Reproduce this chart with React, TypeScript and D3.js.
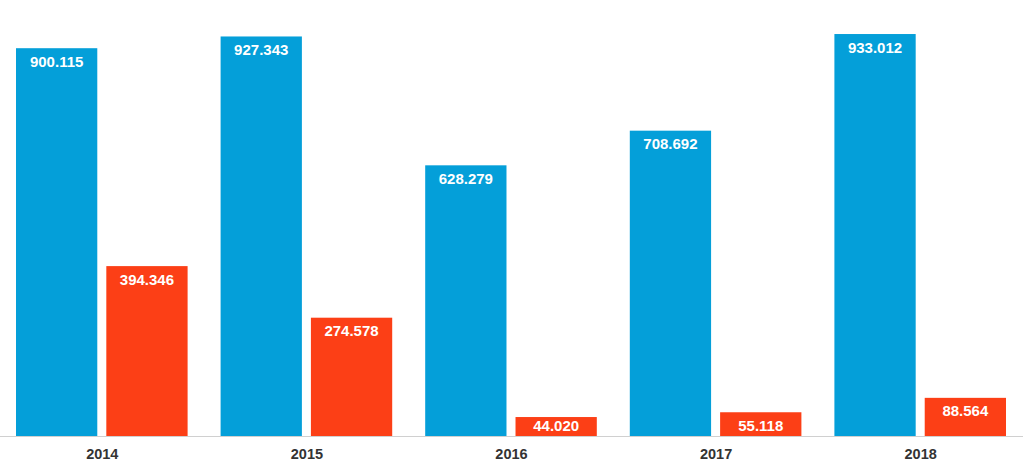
import React from "react";
import * as d3 from "d3";

const years = ["2014", "2015", "2016", "2017", "2018"];
const seriesA = [900.115, 927.343, 628.279, 708.692, 933.012];
const seriesB = [394.346, 274.578, 44.02, 55.118, 88.564];
const seriesKeys = ["a", "b"];
const colors = ["#049fd9", "#fc3f16"];

const W = 1023;
const H = 472;
const baseY = 436;

export default function App() {
  const x0 = d3.scaleBand<string>().domain(years).range([0, W]).padding(0);
  const x1 = d3
    .scaleBand<string>()
    .domain(seriesKeys)
    .range([16, x0.bandwidth() - 17])
    .paddingInner(0.1)
    .paddingOuter(0);
  const y = d3.scaleLinear().domain([0, 1012]).range([baseY, 0]);
  const fmt = (v: number) => d3.format(".3f")(v);
  const series = [seriesA, seriesB];

  return (
    <svg
      width={W}
      height={H}
      style={{ position: "absolute", left: 0, top: 0, background: "#fff" }}
      fontFamily="'Liberation Sans', Arial, Helvetica, sans-serif"
    >
      {years.map((yr, i) => (
        <g key={yr} transform={`translate(${x0(yr)},0)`}>
          {seriesKeys.map((k, j) => {
            const v = series[j][i];
            const bx = x1(k)!;
            const bw = x1.bandwidth();
            return (
              <g key={k}>
                <rect x={bx} y={y(v)} width={bw} height={baseY - y(v)} fill={colors[j]} />
                <text
                  x={bx + bw / 2}
                  y={Math.min(y(v) + 18.5, baseY - 5)}
                  textAnchor="middle"
                  fill="#fff"
                  fontSize={15}
                  fontWeight="bold"
                >
                  {fmt(v)}
                </text>
              </g>
            );
          })}
          <text
            x={x0.bandwidth() / 2}
            y={459}
            textAnchor="middle"
            fill="#333"
            fontSize={14.5}
            fontWeight="bold"
          >
            {yr}
          </text>
        </g>
      ))}
      <line x1={0} x2={W} y1={baseY + 0.5} y2={baseY + 0.5} stroke="#d0d0d0" strokeWidth={1} />
    </svg>
  );
}
